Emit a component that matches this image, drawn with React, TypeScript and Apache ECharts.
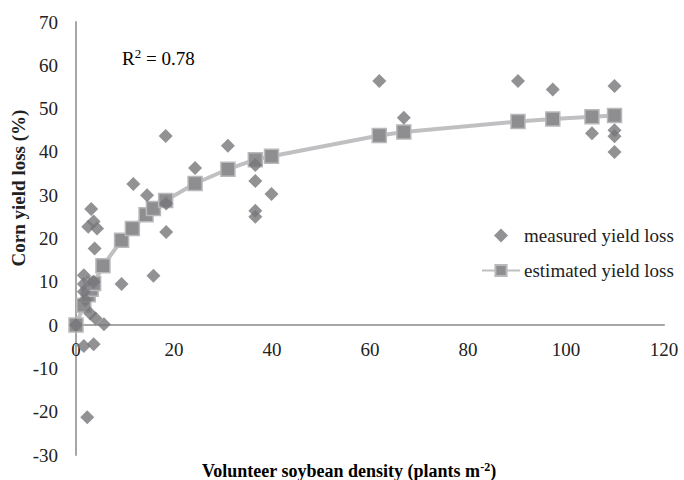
import React, { useEffect, useRef } from "react";
import * as echarts from "echarts";

const measuredX = [0, 1.6, 3.6, 1.6, 1.9, 2.9, 4.0, 5.7, 3.6, 1.6, 2.3, 9.3, 3.1, 2.5, 3.6, 4.3, 3.8, 1.6, 11.7, 14.5, 15.8, 18.3, 18.4, 18.4, 24.3, 31.0, 36.6, 36.6, 36.6, 36.6, 39.9, 61.9, 66.9, 90.2, 97.3, 105.3, 109.9, 109.9, 109.9, 109.9];
const measuredY = [0, 11.5, 10.0, 7.7, 5.8, 2.7, 1.5, 0.2, -4.4, -4.8, -21.3, 9.5, 26.8, 22.7, 23.9, 22.3, 17.7, 9.5, 32.6, 30.0, 11.4, 43.7, 28.1, 21.5, 36.3, 41.4, 37.0, 33.3, 26.4, 25.0, 30.3, 56.4, 47.9, 56.4, 54.4, 44.3, 55.2, 45.0, 43.6, 40.0];

const estimatedX = [0, 1.6, 2.5, 3.1, 3.6, 5.5, 9.3, 11.5, 14.3, 15.8, 18.3, 24.3, 31.0, 36.6, 39.9, 61.9, 66.9, 90.2, 97.3, 105.3, 109.9];
const estimatedY = [0, 4.6, 7.0, 8.3, 9.6, 13.7, 19.6, 22.3, 25.5, 26.9, 28.8, 32.7, 36.0, 38.2, 39.0, 43.8, 44.6, 47.0, 47.6, 48.1, 48.4];

const xTicks = { min: 0, max: 120, interval: 20 };
const yTicks = { min: -30, max: 70, interval: 10 };

const FONT = "'Liberation Serif', 'Times New Roman', serif";

const GRID_TOP = 22;
const GRID_BOTTOM = 25;
const CHART_H = 480;

export default function App() {
  const ref = useRef<HTMLDivElement>(null);
  useEffect(() => {
    document.body.style.margin = "0";
    const chart = echarts.init(ref.current!, null, { renderer: "svg" });
    const lineStyle = { color: "#a6a6a6", width: 2 };
    // distance from the grid's bottom edge up to the y=0 line, so tick labels sit under the zero axis
    const plotH = CHART_H - GRID_TOP - GRID_BOTTOM;
    const zeroOffset = (plotH * (0 - yTicks.min)) / (yTicks.max - yTicks.min);
    chart.setOption({
      animation: false,
      backgroundColor: "#ffffff",
      textStyle: { fontFamily: FONT },
      grid: { left: 76, right: 20, top: GRID_TOP, bottom: GRID_BOTTOM, containLabel: false, outerBoundsMode: "none" },
      xAxis: {
        type: "value",
        ...xTicks,
        axisLine: { show: true, onZero: true, lineStyle },
        axisTick: { show: false },
        splitLine: { show: false },
        axisLabel: { fontFamily: FONT, fontSize: 19, color: "#222", margin: 15 - zeroOffset },
      },
      yAxis: {
        type: "value",
        ...yTicks,
        axisLine: { show: true, onZero: false, lineStyle },
        axisTick: { show: false },
        splitLine: { show: false },
        axisLabel: { fontFamily: FONT, fontSize: 19, color: "#222", margin: 18 },
      },
      legend: {
        orient: "vertical",
        left: 481,
        top: 226,
        padding: 0,
        itemWidth: 38,
        itemHeight: 14,
        itemGap: 16,
        textStyle: { fontFamily: FONT, fontSize: 19, color: "#222", padding: [0, 0, 0, -1] },
        data: [
          { name: "measured yield loss", icon: "path://M0,-1L1,0L0,1L-1,0Z" },
          { name: "estimated yield loss" },
        ],
      },
      series: [
        {
          name: "estimated yield loss",
          type: "line",
          data: estimatedX.map((x, i) => [x, estimatedY[i]]),
          symbol: "rect",
          symbolSize: 14,
          showAllSymbol: true,
          lineStyle: { color: "#c0c0c2", width: 4 },
          itemStyle: { color: "#8e8e90", borderColor: "#b9b9bb", borderWidth: 1.5 },
          z: 2,
        },
        {
          name: "measured yield loss",
          type: "scatter",
          data: measuredX.map((x, i) => [x, measuredY[i]]),
          symbol: "diamond",
          symbolSize: 14,
          itemStyle: { color: "#77777b" },
          z: 3,
        },
      ],
      graphic: [
        {
          type: "text",
          left: 122,
          top: 47,
          style: {
            text: "{a|R}{b|2}{a| = 0.78}",
            rich: {
              a: { fontFamily: FONT, fontSize: 19, color: "#222", lineHeight: 23 },
              b: { fontFamily: FONT, fontSize: 13, color: "#222", lineHeight: 14, verticalAlign: "top" },
            },
          },
        },
        {
          type: "text",
          x: 18,
          y: 188,
          rotation: Math.PI / 2,
          style: {
            text: "Corn yield loss (%)",
            fontFamily: FONT,
            fontWeight: "bold",
            fontSize: 19,
            fill: "#222",
            align: "center",
            verticalAlign: "middle",
          },
        },
        {
          type: "text",
          x: 349,
          y: 471,
          style: {
            text: "{a|Volunteer soybean density (plants m}{b|-2}{a|)}",
            align: "center",
            verticalAlign: "middle",
            rich: {
              a: { fontFamily: FONT, fontSize: 18, fontWeight: "bold", color: "#222", lineHeight: 20 },
              b: { fontFamily: FONT, fontSize: 12, fontWeight: "bold", color: "#222", lineHeight: 12, verticalAlign: "top" },
            },
          },
        },
      ],
    });
    return () => chart.dispose();
  }, []);
  return <div ref={ref} style={{ width: 684, height: 480 }} />;
}
